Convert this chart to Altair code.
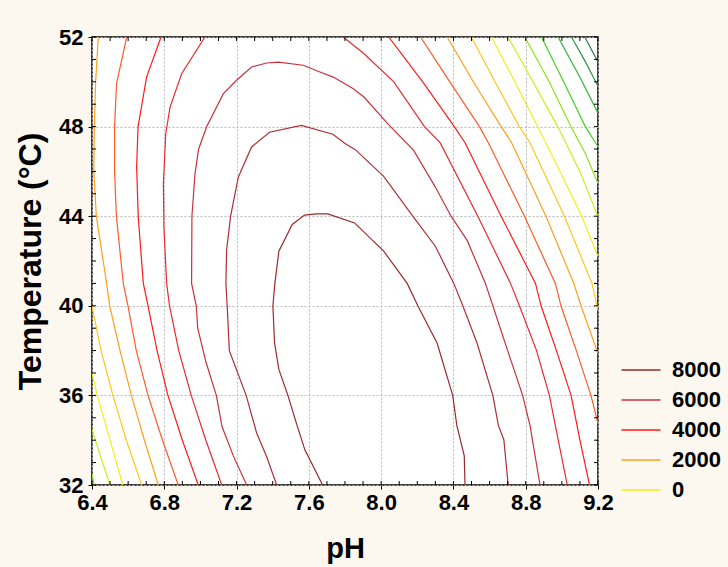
import altair as alt
import pandas as pd

# Axis ticks
PH_TICKS = [6.4, 6.8, 7.2, 7.6, 8.0, 8.4, 8.8, 9.2]
TEMP_TICKS = [32, 36, 40, 44, 48, 52]
PH_MINOR = [6.4, 6.5, 6.6, 6.7, 6.8, 6.9, 7.0, 7.1, 7.2, 7.3, 7.4, 7.5, 7.6, 7.7,
            7.8, 7.9, 8.0, 8.1, 8.2, 8.3, 8.4, 8.5, 8.6, 8.7, 8.8, 8.9, 9.0, 9.1, 9.2]
TEMP_MINOR = [32, 33, 34, 35, 36, 37, 38, 39, 40, 41, 42, 43, 44, 45, 46, 47, 48,
              49, 50, 51, 52]

# Contour levels and their colours
LEVELS = [8000, 7000, 6000, 5000, 4000, 3000, 2000, 1000, 0,
          -1000, -2000, -3000, -4000, -5000, -6000]
LEVEL_COLORS = ["#9b2a2a", "#ad2f35", "#c8323c", "#e82a30", "#ff1a1a",
                "#ff5a28", "#ffa01a", "#ffc81a", "#f0f01a",
                "#c8f01a", "#8ce61a", "#46d21e", "#32b432", "#2d9646", "#2a7850"]
LEGEND_LEVELS = [8000, 6000, 4000, 2000, 0]

# Contour paths: pH and temperature along each line
c8000_ph = [7.676, 7.578, 7.535, 7.484, 7.434, 7.41, 7.401, 7.412, 7.434, 7.508, 7.576,
            7.64, 7.705, 7.853, 8.014, 8.144, 8.203, 8.31, 8.396, 8.419, 8.46, 8.464]
c8000_t = [32, 33.57, 34.65, 36, 37.16, 38.35, 40, 41, 42.44, 43.63, 44.05,
           44.1, 44.1, 43.7, 42.44, 41, 40, 38.33, 36, 34.65, 33.3, 32]

c7000_ph = [7.422, 7.366, 7.311, 7.253, 7.16, 7.148, 7.141, 7.145, 7.167, 7.21, 7.283,
            7.382, 7.558, 7.733, 7.80, 7.857, 8.014, 8.175, 8.30, 8.402, 8.452, 8.531,
            8.618, 8.649, 8.679, 8.703]
c7000_t = [32, 33.27, 34.32, 36, 38, 40, 41, 42.5, 44, 45.75, 47.09,
           47.75, 48.05, 47.66, 47.25, 46.97, 45.78, 44, 42.66, 41, 40, 38.33,
           36, 34.65, 34.02, 32]

c6000_ph = [7.256, 7.182, 7.12, 7.088, 7.03, 6.985, 6.977, 6.951, 6.953, 6.97, 6.99,
            7.035, 7.127, 7.2, 7.283, 7.366, 7.431, 7.569, 7.661, 7.735, 7.846,
            7.905, 8.04, 8.18, 8.30, 8.387, 8.476, 8.577, 8.618, 8.70, 8.783, 8.824, 8.879]
c6000_t = [32, 33.3, 34.6, 36, 37.5, 39, 40, 41, 44, 45.9, 47,
           48, 49.47, 50.07, 50.66, 50.84, 50.88, 50.74, 50.44, 50.21, 49.69,
           49.32, 48.1, 46.94, 45.3, 44, 42.92, 41, 40, 38, 36, 34.65, 32]

c5000a_ph = [7.118, 7.03, 6.949, 6.88, 6.829, 6.813, 6.798, 6.795, 6.808, 6.832, 6.896, 7.025]
c5000a_t = [32, 34, 36, 38, 40, 41, 43.5, 45.45, 47.68, 48.87, 50.36, 52]
c5000b_ph = [7.79, 7.904, 8.07, 8.24, 8.327, 8.535, 8.716, 8.765, 8.86, 8.931, 8.98, 9.03]
c5000b_t = [52, 51.26, 50, 48, 47.27, 44, 41, 40, 38, 36, 34, 32]

c4000a_ph = [6.988, 6.90, 6.82, 6.76, 6.71, 6.684, 6.656, 6.647, 6.655, 6.702, 6.782]
c4000a_t = [32, 34, 36, 38, 40, 41, 43.96, 46.2, 48, 50.21, 52]
c4000b_ph = [8.042, 8.23, 8.405, 8.465, 8.664, 8.854, 8.885, 8.97, 9.051, 9.10, 9.153]
c4000b_t = [52, 50, 48, 47.27, 44, 41, 40, 38, 36, 34, 32]

c3000a_ph = [6.877, 6.79, 6.71, 6.645, 6.599, 6.573, 6.535, 6.525, 6.525, 6.536, 6.592]
c3000a_t = [32, 34, 36, 38, 40, 41, 44, 46, 48, 49.92, 52]
c3000b_ph = [8.218, 8.38, 8.544, 8.594, 8.793, 8.964, 8.995, 9.08, 9.161, 9.2]
c3000b_t = [52, 50, 48, 47.27, 44, 41, 40, 38, 36, 34.74]

c2000a_ph = [6.767, 6.69, 6.618, 6.555, 6.498, 6.481, 6.424, 6.41, 6.413, 6.42, 6.435]
c2000a_t = [32, 34, 36, 38, 40, 41, 44, 46, 48, 50, 52]
c2000b_ph = [8.365, 8.51, 8.664, 8.723, 8.912, 9.066, 9.106, 9.2]
c2000b_t = [52, 50, 48, 47.27, 44, 41, 40, 37.87]

c1000a_ph = [6.4, 6.45, 6.516, 6.59, 6.675]
c1000a_t = [40, 38, 36, 34, 32]
c1000b_ph = [8.499, 8.63, 8.765, 8.824, 9.014, 9.167, 9.2]
c1000b_t = [52, 50, 48, 47.27, 44, 41, 39.8]

c0a_ph = [6.4, 6.429, 6.50, 6.57]
c0a_t = [37, 36, 34, 32]
c0b_ph = [8.61, 8.74, 8.866, 8.99, 9.11, 9.2]
c0b_t = [52, 50, 48, 46, 44, 42.2]

cm1000a_ph = [6.4, 6.45, 6.5]
cm1000a_t = [34.5, 33.2, 32]
cm1000b_ph = [8.702, 8.84, 8.977, 9.1, 9.2]
cm1000b_t = [52, 50, 48, 46, 43.97]

cm2000a_ph = [6.4, 6.413]
cm2000a_t = [32.5, 32]
cm2000b_ph = [8.795, 8.93, 9.05, 9.13, 9.2]
cm2000b_t = [52, 50, 48, 46.8, 45.46]

cm3000_ph = [8.887, 9.01, 9.13, 9.2]
cm3000_t = [52, 50, 48, 47.1]
cm4000_ph = [8.979, 9.1, 9.2]
cm4000_t = [52, 50.2, 48.6]
cm5000_ph = [9.053, 9.13, 9.2]
cm5000_t = [52, 50.9, 49.8]
cm6000_ph = [9.127, 9.2]
cm6000_t = [52, 50.88]

SEGMENTS = [
    (8000, c8000_ph, c8000_t),
    (7000, c7000_ph, c7000_t),
    (6000, c6000_ph, c6000_t),
    (5000, c5000a_ph, c5000a_t), (5000, c5000b_ph, c5000b_t),
    (4000, c4000a_ph, c4000a_t), (4000, c4000b_ph, c4000b_t),
    (3000, c3000a_ph, c3000a_t), (3000, c3000b_ph, c3000b_t),
    (2000, c2000a_ph, c2000a_t), (2000, c2000b_ph, c2000b_t),
    (1000, c1000a_ph, c1000a_t), (1000, c1000b_ph, c1000b_t),
    (0, c0a_ph, c0a_t), (0, c0b_ph, c0b_t),
    (-1000, cm1000a_ph, cm1000a_t), (-1000, cm1000b_ph, cm1000b_t),
    (-2000, cm2000a_ph, cm2000a_t), (-2000, cm2000b_ph, cm2000b_t),
    (-3000, cm3000_ph, cm3000_t),
    (-4000, cm4000_ph, cm4000_t),
    (-5000, cm5000_ph, cm5000_t),
    (-6000, cm6000_ph, cm6000_t),
]

rows = []
for seg_id, (level, phs, temps) in enumerate(SEGMENTS):
    for i, (p, t) in enumerate(zip(phs, temps)):
        rows.append({"ph": p, "temp": t, "level": level, "seg": seg_id, "idx": i})
contours = pd.DataFrame(rows)

W, H = 506, 448
FONT = "Liberation Sans"

x_enc = alt.X("ph:Q", title="pH",
              scale=alt.Scale(domain=[6.4, 9.2], nice=False, zero=False),
              axis=alt.Axis(values=PH_TICKS, format=".1f", labelPadding=3,
                            labelFlush=False, titlePadding=21, titleFontSize=29))
y_enc = alt.Y("temp:Q", title="Temperature (°C)",
              scale=alt.Scale(domain=[32, 52], nice=False, zero=False),
              axis=alt.Axis(values=TEMP_TICKS, labelPadding=5, labelFlush=False,
                            titlePadding=11, titleFontSize=32))

lines = alt.Chart(contours).mark_line(strokeWidth=1.2, clip=True).encode(
    x=x_enc,
    y=y_enc,
    color=alt.Color(
        "level:O",
        scale=alt.Scale(domain=LEVELS, range=LEVEL_COLORS),
        legend=alt.Legend(
            values=LEGEND_LEVELS, title=None, orient="none",
            legendX=538, legendY=322,
            symbolType="M-2,0H2", symbolSize=380, symbolStrokeWidth=1.5,
            labelFont=FONT, labelFontSize=22, labelFontWeight="bold",
            labelColor="black", labelOffset=20, rowPadding=8, padding=0,
        ),
    ),
    detail="seg:N",
    order="idx:Q",
)

# Small inward ticks around the frame
ph_minor = pd.DataFrame({"ph": PH_MINOR})
temp_minor = pd.DataFrame({"temp": TEMP_MINOR})
tick_style = dict(color="black", strokeWidth=1)
top_ticks = alt.Chart(ph_minor).mark_rule(**tick_style).encode(
    x=x_enc, y=alt.value(0), y2=alt.value(4))
bottom_ticks = alt.Chart(ph_minor).mark_rule(**tick_style).encode(
    x=x_enc, y=alt.value(H), y2=alt.value(H - 4))
left_ticks = alt.Chart(temp_minor).mark_rule(**tick_style).encode(
    y=y_enc, x=alt.value(0), x2=alt.value(4))
right_ticks = alt.Chart(temp_minor).mark_rule(**tick_style).encode(
    y=y_enc, x=alt.value(W), x2=alt.value(W - 4))

chart = alt.layer(lines, top_ticks, bottom_ticks, left_ticks, right_ticks).properties(
    width=W, height=H,
    autosize=alt.AutoSizeParams(type="none"),
    padding={"left": 92, "top": 37, "right": 130, "bottom": 82},
    background="#fcf8ef",
).configure_view(
    stroke="black", strokeWidth=1.5, fill="white",
).configure_axis(
    labelFont=FONT, labelFontSize=22, labelFontWeight="bold", labelColor="black",
    titleFont=FONT, titleFontWeight="bold", titleColor="black",
    domain=False, tickColor="black", tickSize=4,
    grid=True, gridColor="#b8b8b8", gridDash=[2, 2], gridWidth=1,
)

chart.save("out.html", embed_options={"renderer": "svg", "actions": False})
